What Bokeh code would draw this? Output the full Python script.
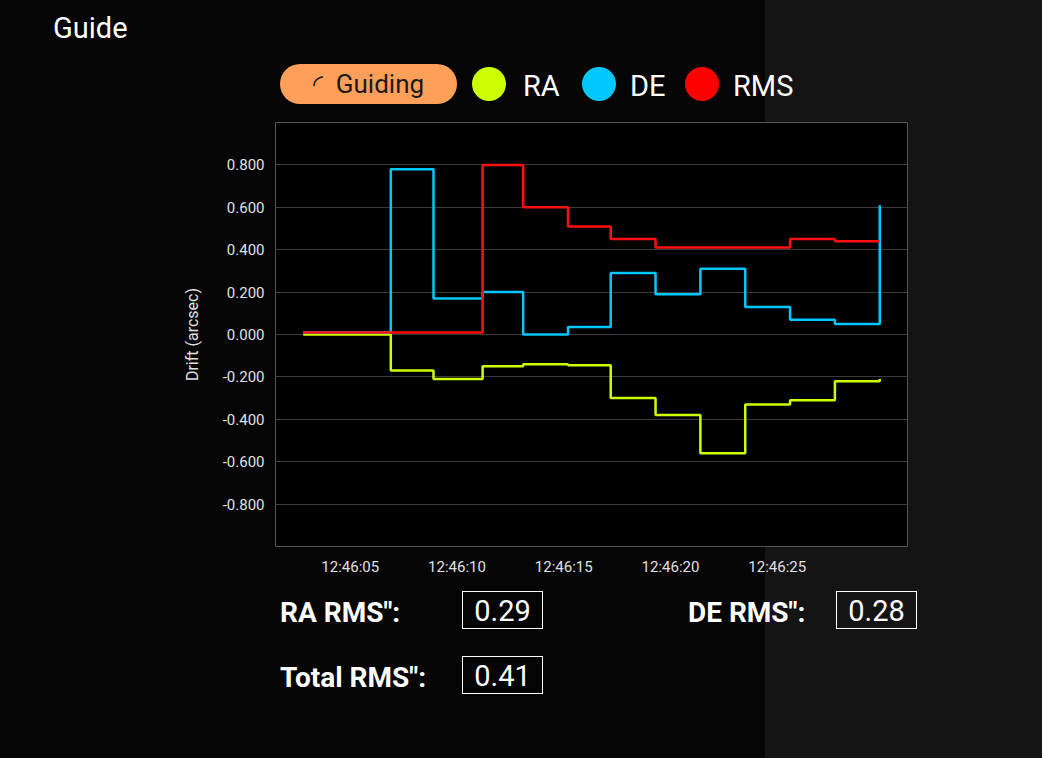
from datetime import datetime, timedelta

from bokeh.embed import file_html
from bokeh.layouts import column
from bokeh.models import Div, FixedTicker, DatetimeTickFormatter, NumeralTickFormatter, Range1d
from bokeh.plotting import figure
from bokeh.resources import INLINE

# Datos (segundos desde 12:46:00)
t_sec = [2.8, 6.9, 8.9, 11.2, 13.1, 15.2, 17.2, 19.3, 21.4, 23.5, 25.6, 27.7, 29.8]
ra = [0.0, -0.17, -0.21, -0.15, -0.14, -0.145, -0.30, -0.38, -0.56, -0.33, -0.31, -0.22, -0.21]
de = [0.01, 0.78, 0.17, 0.20, 0.0, 0.035, 0.29, 0.19, 0.31, 0.13, 0.07, 0.05, 0.61]
rms = [0.01, 0.01, 0.01, 0.80, 0.60, 0.51, 0.45, 0.41, 0.41, 0.41, 0.45, 0.44, 0.44]
tick_sec = [5, 10, 15, 20, 25]
y_ticks = [-0.8, -0.6, -0.4, -0.2, 0.0, 0.2, 0.4, 0.6, 0.8]
ra_rms, de_rms, total_rms = "0.29", "0.28", "0.41"

base = datetime(2024, 1, 1, 12, 46, 0)
times = [base + timedelta(seconds=s) for s in t_sec]
to_ms = lambda s: (base + timedelta(seconds=s) - datetime(1970, 1, 1)).total_seconds() * 1000

FONT = "Roboto"

header = Div(width=1032, height=100, text=f"""
<div style="position:relative;width:1032px;height:100px;font-family:{FONT};color:white;">
 <span style="position:absolute;left:48px;top:3px;font-size:29px;">Guide</span>
 <div style="position:absolute;left:275px;top:59px;width:177px;height:40px;border-radius:20px;
   background:#FF9F5A;color:#1a1a1a;font-size:26px;line-height:40px;text-align:center;">&#x25DC;&nbsp; Guiding</div>
 <div style="position:absolute;left:467px;top:62px;width:34px;height:34px;border-radius:17px;background:#CCFF00;"></div>
 <span style="position:absolute;left:518px;top:61px;font-size:29px;">RA</span>
 <div style="position:absolute;left:577px;top:62px;width:34px;height:34px;border-radius:17px;background:#00C8FF;"></div>
 <span style="position:absolute;left:625px;top:61px;font-size:29px;">DE</span>
 <div style="position:absolute;left:680px;top:62px;width:34px;height:34px;border-radius:17px;background:#FF0000;"></div>
 <span style="position:absolute;left:728px;top:61px;font-size:29px;">RMS</span>
</div>""")

p = figure(width=1032, height=470, x_axis_type="datetime", output_backend="svg",
           toolbar_location=None, x_range=Range1d(to_ms(1.5), to_ms(31.1)),
           y_range=Range1d(-1.0, 1.0), min_border_left=275, min_border_right=125,
           min_border_top=12, min_border_bottom=34)
p.border_fill_alpha = 0
p.background_fill_color = "black"
p.outline_line_color = "#555555"

p.step(times, ra, mode="after", line_color="#CCFF00", line_width=2.5)
p.step(times, de, mode="after", line_color="#00C8FF", line_width=2.5)
p.step(times, rms, mode="after", line_color="#FF1010", line_width=2.5)

p.xaxis.ticker = FixedTicker(ticks=[to_ms(s) for s in tick_sec])
p.xaxis.formatter = DatetimeTickFormatter(seconds="%H:%M:%S", minsec="%H:%M:%S", minutes="%H:%M:%S")
p.yaxis.ticker = FixedTicker(ticks=y_ticks)
p.yaxis.formatter = NumeralTickFormatter(format="0.000")
p.yaxis.axis_label = "Drift (arcsec)"
p.xgrid.visible = False
p.ygrid.grid_line_color = "#3a3a3a"
for ax in [p.xaxis[0], p.yaxis[0]]:
    ax.axis_line_color = None
    ax.major_tick_line_color = None
    ax.minor_tick_line_color = None
    ax.major_label_text_color = "#e0e0e0"
    ax.major_label_text_font = FONT
    ax.major_label_text_font_size = "15px"
p.yaxis.axis_label_text_color = "#e0e0e0"
p.yaxis.axis_label_text_font = FONT
p.yaxis.axis_label_text_font_size = "16px"
p.yaxis.axis_label_text_font_style = "normal"
p.yaxis.axis_label_standoff = 18

box = "position:absolute;width:81px;height:38px;border:1px solid white;font-size:29px;line-height:38px;text-align:center;"
lab = "position:absolute;font-size:28px;font-weight:bold;"
stats = Div(width=1032, height=188, text=f"""
<div style="position:relative;width:1032px;height:188px;font-family:{FONT};color:white;">
 <span style="{lab}left:275px;top:8px;">RA RMS":</span>
 <div style="{box}left:457px;top:6px;">{ra_rms}</div>
 <span style="{lab}left:683px;top:8px;">DE RMS":</span>
 <div style="{box}left:831px;top:6px;">{de_rms}</div>
 <span style="{lab}left:275px;top:73px;">Total RMS":</span>
 <div style="{box}left:457px;top:71px;">{total_rms}</div>
</div>""")

layout = column(header, p, stats, spacing=0,
                styles={"background": "linear-gradient(to right, #050505 765px, #141414 765px)"})

open("out.html", "w").write(file_html(layout, INLINE))
